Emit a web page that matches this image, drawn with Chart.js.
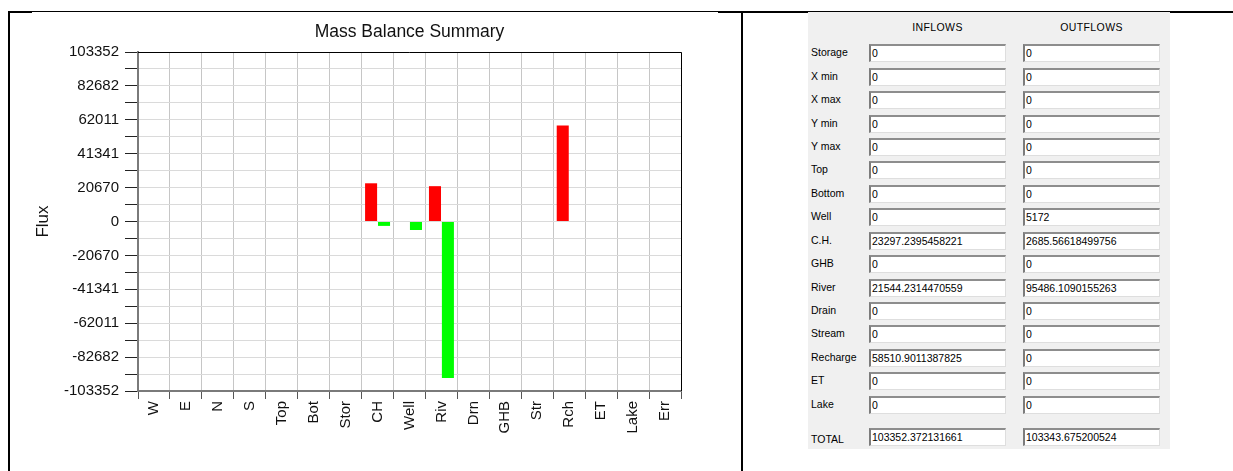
<!DOCTYPE html>
<html>
<head>
<meta charset="utf-8">
<title>Mass Balance Summary</title>
<script src="https://cdn.jsdelivr.net/npm/chart.js@4/dist/chart.umd.min.js"></script>
<style>
  body { margin: 0; width: 1233px; height: 471px; position: relative; overflow: hidden; background: #fff;
         font-family: "Liberation Sans", Arial, sans-serif; }
  .rule { position: absolute; background: #000; }
  #chartBox { position: absolute; left: 10px; top: 13px; }
  #panel { position: absolute; left: 808px; top: 12px; width: 362px; height: 437px; background: #f0f0f0;
           font-size: 10.5px; color: #000; }
  #panel div { position: absolute; white-space: nowrap; }
  .hdr { width: 137px; text-align: center; letter-spacing: 0.4px; line-height: 12px; }
  .lbl { left: 3px; line-height: 12px; }
  .box { width: 137px; height: 18px; box-sizing: border-box; background: #fff; padding-left: 1px; line-height: 15px;
         border-top: 2px solid #8d8d8d; border-left: 2px solid #7c7c7c;
         border-right: 1px solid #dedede; border-bottom: 1px solid #dedede; }
</style>
</head>
<body>
<!-- page frame lines -->
<div class="rule" style="left:8px;top:11px;width:1225px;height:1px"></div>
<div class="rule" style="left:8px;top:12px;width:24px;height:1px"></div>
<div class="rule" style="left:718px;top:12px;width:90px;height:1px"></div>
<div class="rule" style="left:1170px;top:12px;width:63px;height:1px"></div>
<div class="rule" style="left:8px;top:11px;width:2px;height:460px"></div>
<div class="rule" style="left:741px;top:11px;width:2px;height:460px"></div>

<div id="chartBox"><canvas id="myChart" width="731" height="458"></canvas></div>
<div id="panel"></div>

<script>
// budget terms as listed in the summary table
var budgetTerms = ['Storage', 'X min', 'X max', 'Y min', 'Y max', 'Top', 'Bottom', 'Well', 'C.H.',
                   'GHB', 'River', 'Drain', 'Stream', 'Recharge', 'ET', 'Lake'];
var inflows  = [0, 0, 0, 0, 0, 0, 0, 0, 23297.2395458221, 0, 21544.2314470559, 0, 0, 58510.9011387825, 0, 0];
var outflows = [0, 0, 0, 0, 0, 0, 0, 5172, 2685.56618499756, 0, 95486.1090155263, 0, 0, 0, 0, 0];
var totalIn  = 103352.372131661;
var totalOut = 103343.675200524;

// bar categories and the budget term each one plots
var categories   = ['W', 'E', 'N', 'S', 'Top', 'Bot', 'Stor', 'CH', 'Well', 'Riv', 'Drn', 'GHB', 'Str', 'Rch', 'ET', 'Lake', 'Err'];
var categoryTerm = ['X min', 'X max', 'Y max', 'Y min', 'Top', 'Bottom', 'Storage', 'C.H.', 'Well', 'River',
                    'Drain', 'GHB', 'Stream', 'Recharge', 'ET', 'Lake', null];

// ---- table panel ----
var panel = document.getElementById('panel');
function addDiv(cls, text, left, top) {
  var d = document.createElement('div');
  d.className = cls;
  d.textContent = text;
  if (left !== null) d.style.left = left + 'px';
  d.style.top = top + 'px';
  panel.appendChild(d);
}
addDiv('hdr', 'INFLOWS', 61, 9);
addDiv('hdr', 'OUTFLOWS', 215, 9);
budgetTerms.forEach(function (term, i) {
  var top = 32.3 + i * 23.43;
  addDiv('lbl', term, null, top + 2);
  addDiv('box', String(inflows[i]), 61, top);
  addDiv('box', String(outflows[i]), 215, top);
});
addDiv('lbl', 'TOTAL', null, 420.5);
addDiv('box', String(totalIn), 61, 415.7);
addDiv('box', String(totalOut), 215, 415.7);

// ---- chart ----
var inData = categoryTerm.map(function (t) { return t ? inflows[budgetTerms.indexOf(t)] : 0; });
var outData = categoryTerm.map(function (t) { return t ? -outflows[budgetTerms.indexOf(t)] : 0; });

// black frame on top and right of the plot; title centred over the plot
var frame = {
  id: 'frame',
  afterLayout: function (chart) {
    var a = chart.chartArea, t = chart.titleBlock;
    if (t) { t.left = a.left; t.right = a.right; t.width = a.right - a.left; }
  },
  afterDraw: function (chart) {
    var ctx = chart.ctx, a = chart.chartArea;
    ctx.save();
    ctx.strokeStyle = '#000';
    ctx.lineWidth = 1;
    ctx.beginPath();
    ctx.moveTo(Math.round(a.left), Math.round(a.top) + 0.5);
    ctx.lineTo(Math.round(a.right) + 0.5, Math.round(a.top) + 0.5);
    ctx.lineTo(Math.round(a.right) + 0.5, Math.round(a.bottom));
    ctx.stroke();
    ctx.restore();
  }
};

Chart.defaults.font.family = '"Liberation Sans", Arial, sans-serif';
Chart.defaults.color = '#000';

var ctx = document.getElementById('myChart').getContext('2d');
var chart = new Chart(ctx, {
  type: 'bar',
  data: {
    labels: categories,
    datasets: [{
      label: 'Inflows',
      backgroundColor: 'rgb(255, 0, 0)',
      data: inData
    }, {
      label: 'Outflows',
      backgroundColor: 'rgb(0, 255, 0)',
      data: outData
    }]
  },
  options: {
    responsive: false,
    animation: false,
    barPercentage: 0.93,
    categoryPercentage: 0.81,
    layout: { padding: { left: 0, right: 60, top: 0, bottom: 0 } },
    plugins: {
      legend: { display: false },
      tooltip: { enabled: false },
      title: {
        display: true,
        text: 'Mass Balance Summary',
        font: { size: 17.5, weight: 'normal' },
        color: '#111',
        padding: { top: 9, bottom: 9 }
      }
    },
    scales: {
      x: {
        border: { color: '#7a7a7a', width: 2 },
        grid: { color: '#c6c6c6', tickColor: '#555', tickLength: 8 },
        ticks: { autoSkip: false, minRotation: 90, maxRotation: 90, padding: 2, font: { size: 15 }, color: '#111' },
        afterFit: function (scale) { scale.height = 80; }
      },
      y: {
        min: -totalIn,
        max: totalIn,
        border: { color: '#7a7a7a', width: 2 },
        grid: { color: '#dadada', tickColor: '#222', tickLength: 13 },
        ticks: {
          count: 21,
          autoSkip: false,
          padding: 6,
          font: { size: 15 },
          color: '#111',
          callback: function (value, index) { return index % 2 ? '' : String(Math.round(value)); }
        },
        title: { display: true, text: 'Flux', font: { size: 17 }, color: '#111', padding: { top: 23, bottom: 0 } },
        afterFit: function (scale) { scale.width = 128; }
      }
    }
  },
  plugins: [frame]
});
</script>
</body>
</html>
